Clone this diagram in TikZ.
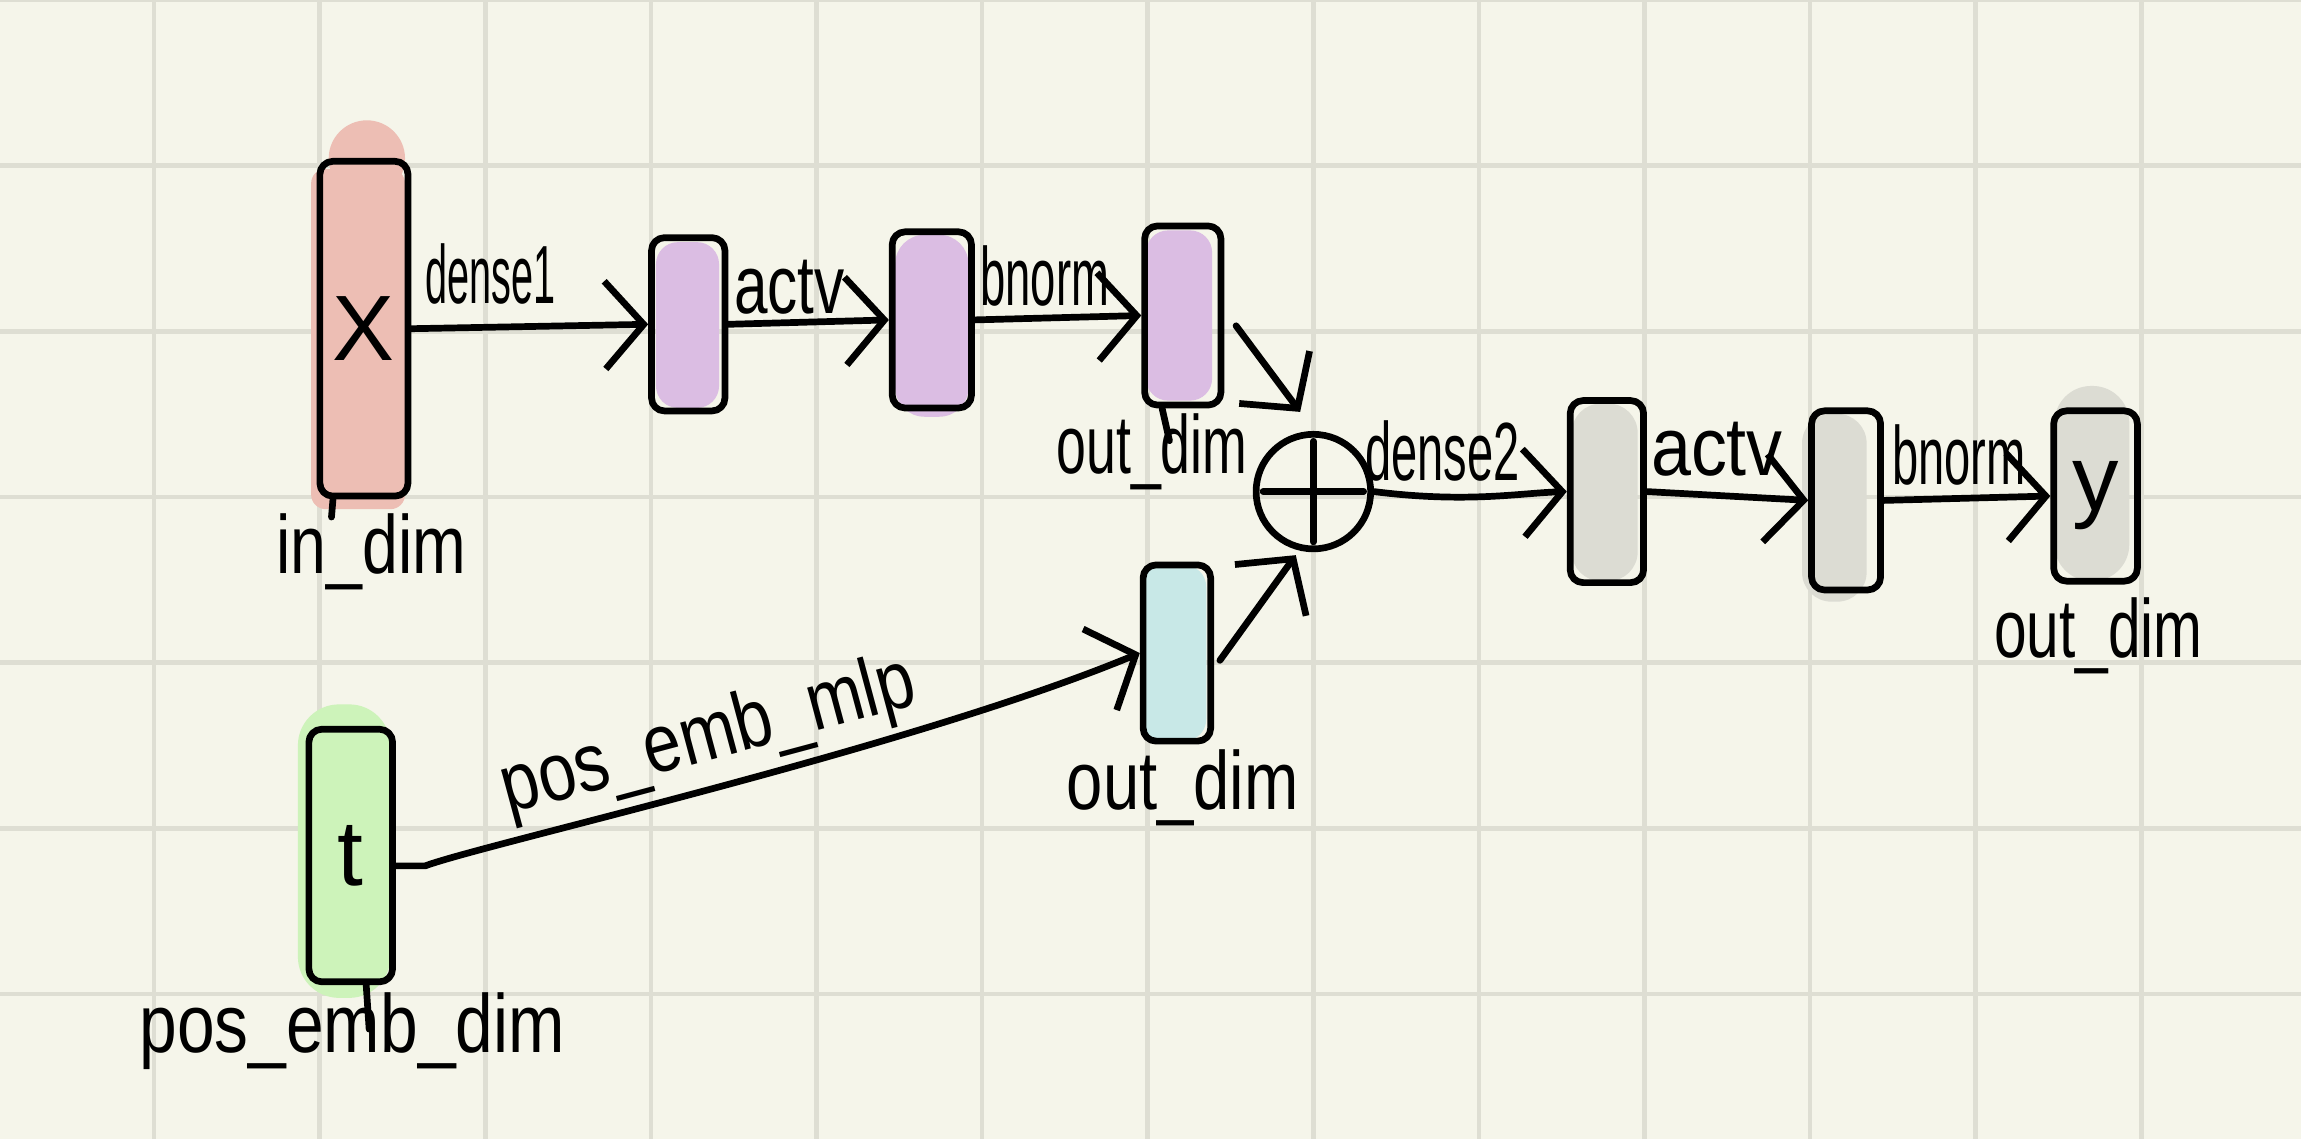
\documentclass[tikz,border=0pt]{standalone}
\usepackage{fontspec}
\setmainfont{Liberation Sans}
\usetikzlibrary{arrows.meta,calc,shapes.geometric}
\definecolor{bg}{HTML}{F5F5EA}
\definecolor{gridc}{HTML}{DEDED3}
\definecolor{pinkc}{HTML}{EDBEB4}
\definecolor{purc}{HTML}{DBBDE3}
\definecolor{cyc}{HTML}{C8E8E7}
\definecolor{grc}{HTML}{DCDCD3}
\definecolor{grnc}{HTML}{CDF3BA}
\begin{document}
\begin{tikzpicture}[x=0.01cm,y=-0.01cm,
  box/.style={draw=black, line width=1.3pt, rounded corners=2.5pt, inner sep=0pt, line join=round, font=\fontsize{18}{18}\selectfont},
  arr/.style={line width=1.3pt, line cap=round, line join=round, -{Straight Barb[length=7.5pt,width=17pt,line width=1.3pt]}},
  lbl/.style={font=\fontsize{16}{16}\selectfont, inner sep=0pt},
  tickln/.style={line width=1.3pt, line cap=round}]
\fill[bg] (0,0) rectangle (1568,776);
\useasboundingbox (0,0) rectangle (1568,776);
\foreach \i in {0,...,12} \draw[gridc, line width=0.9pt] ({105+112.85*\i},0) -- ({105+112.85*\i},776);
\foreach \j in {0,...,6} \draw[gridc, line width=0.9pt] (0,{112.9*\j}) -- (1568,{112.9*\j});
% colour blobs
\fill[pinkc] (250,108) circle[radius=0.26cm];
\fill[pinkc, rounded corners=0.1cm] (212,115) rectangle (276,347);
\fill[purc, rounded corners=0.15cm] (447,165) rectangle (490,278);
\fill[purc, rounded corners=0.2cm] (610,160) rectangle (660,284);
\fill[purc, rounded corners=0.15cm] (781,157) rectangle (826,273);
\fill[cyc, rounded corners=0.15cm] (778,385) rectangle (822,505);
\fill[grc, rounded corners=0.2cm] (1071,275) rectangle (1116,396);
\fill[grc, rounded corners=0.2cm] (1228,282) rectangle (1272,410);
\fill[grc, rounded corners=0.25cm] (1400,263) rectangle (1451,396);
\fill[grnc, rounded corners=0.28cm] (203,480) rectangle (266,680);
% boxes
\node[box, minimum width=0.6cm, minimum height=2.28cm] (X) at (248,224) {X};
\node[box, minimum width=0.5cm, minimum height=1.18cm] (p1) at (469,221) {};
\node[box, minimum width=0.54cm, minimum height=1.2cm] (p2) at (635,218) {};
\node[box, minimum width=0.52cm, minimum height=1.22cm] (p3) at (806,215) {};
\node[box, minimum width=0.46cm, minimum height=1.2cm] (cy) at (802,445) {};
\node[draw, circle, line width=1.3pt, minimum size=0.78cm, inner sep=0pt] (plus) at (895,335) {};
\node[box, minimum width=0.5cm, minimum height=1.24cm] (g1) at (1095,335) {};
\node[box, minimum width=0.47cm, minimum height=1.22cm] (g2) at (1258,341) {};
\node[box, minimum width=0.57cm, minimum height=1.16cm] (Y) at (1428,338) {y};
\node[box, minimum width=0.57cm, minimum height=1.72cm] (T) at (239,583) {t};
\draw[line width=1.3pt, line cap=round] ([xshift=2pt]plus.west) -- ([xshift=-2pt]plus.east);
\draw[line width=1.3pt, line cap=round] ([yshift=-2pt]plus.north) -- ([yshift=2pt]plus.south);
% connectors
\draw[arr] (X.east) -- (p1.west);
\draw[arr] (p1.east) -- (p2.west);
\draw[arr] (p2.east) -- (p3.west);
\draw[arr] ([shift={(8,7)}]p3.east) -- ([shift={(-9,-13)}]plus.north);
\draw[arr] ([shift={(4,5)}]cy.east) -- ([shift={(-12,2)}]plus.south);
\draw[arr] (plus.east) .. controls (1000,343) and (1035,336) .. (g1.west);
\draw[arr] (g1.east) -- (g2.west);
\draw[arr] (g2.east) -- (Y.west);
\draw[arr] ([yshift=-2pt]T.east) -- ++(20,0) .. controls (330,575) and (620,510) .. (cy.west);
% ticks
\draw[tickln] ([xshift=-6pt]X.south) -- ++(-1,12);
\draw[tickln] ([xshift=-4pt]p3.south) -- ++(5,22);
\draw[tickln] ([xshift=3pt]T.south) -- ++(2,30);
% labels
\node[lbl, xscale=0.48] (l1) at (334,187) {dense1};
\node[lbl, xscale=0.73] (l2) at (538,196) {actv};
\node[lbl, xscale=0.55] (l3) at (712,188) {bnorm};
\node[lbl, xscale=0.65] (l4) at (785,308) {out\_dim};
\node[lbl, xscale=0.78] (l5) at (253,376) {in\_dim};
\node[lbl, xscale=0.79] (l6) at (806,537) {out\_dim};
\node[lbl, xscale=0.57] (l7) at (983,307) {dense2};
\node[lbl, xscale=0.87] (l8) at (1170,306) {actv};
\node[lbl, xscale=0.57] (l9) at (1335,310) {bnorm};
\node[lbl, xscale=0.71] (l10) at (1430,433) {out\_dim};
\node[lbl, rotate=15, xscale=0.82] (l11) at (483,503) {pos\_emb\_mlp};
\node[lbl, xscale=0.82] (l12) at (240,703) {pos\_emb\_dim};
\end{tikzpicture}
\end{document}
